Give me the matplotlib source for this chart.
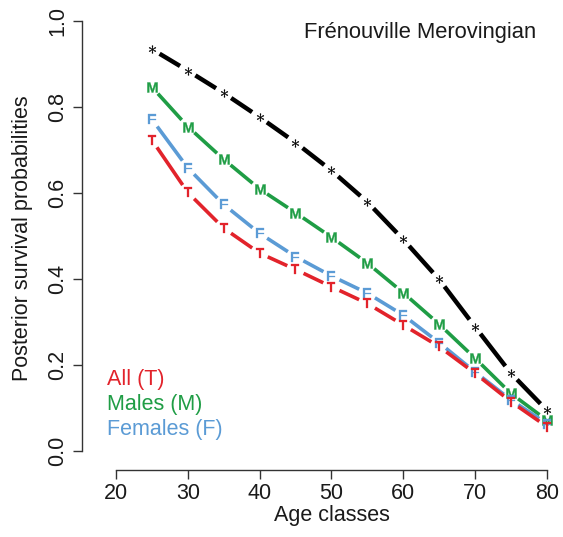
import numpy as np
import matplotlib
matplotlib.use("Agg")
import matplotlib.pyplot as plt

plt.rcParams["font.family"] = ["Liberation Sans", "DejaVu Sans"]
plt.rcParams["mathtext.fontset"] = "custom"
plt.rcParams["mathtext.rm"] = "Liberation Sans"
plt.rcParams["mathtext.bf"] = "Liberation Sans:bold"

# Age classes and posterior survival probabilities
ages = [25, 30, 35, 40, 45, 50, 55, 60, 65, 70, 75, 80]
overall_ref = [0.934, 0.884, 0.832, 0.776, 0.717, 0.652, 0.579, 0.492, 0.399, 0.289, 0.181, 0.095]
males = [0.846, 0.754, 0.678, 0.609, 0.554, 0.497, 0.437, 0.368, 0.295, 0.216, 0.134, 0.072]
females = [0.771, 0.658, 0.573, 0.506, 0.452, 0.407, 0.367, 0.316, 0.252, 0.184, 0.119, 0.064]
all_T = [0.723, 0.601, 0.518, 0.460, 0.422, 0.382, 0.343, 0.293, 0.243, 0.181, 0.115, 0.057]

x_ticks = [20, 30, 40, 50, 60, 70, 80]
y_ticks = [0.0, 0.2, 0.4, 0.6, 0.8, 1.0]

RED = "#e2232b"
GREEN = "#1f9d45"
BLUE = "#5b9bd5"
BLACK = "#000000"
TXT = "#1a1a1a"

W, H = 563, 537
fig = plt.figure(figsize=(W / 100, H / 100), dpi=100)
left_px, right_px, top_px, bottom_px = 101.6, 561.1, 3.5, 470.0
ax = fig.add_axes([left_px / W, 1 - bottom_px / H,
                   (right_px - left_px) / W, (bottom_px - top_px) / H])
ax.set_xlim(18, 82)
ax.set_ylim(-0.044, 1.04)
ax.patch.set_alpha(0)

for s in ("top", "right"):
    ax.spines[s].set_visible(False)
ax.spines["left"].set_position(("outward", 14.1))
ax.spines["left"].set_bounds(0, 1)
ax.spines["bottom"].set_bounds(20, 80)
for s in ("left", "bottom"):
    ax.spines[s].set_color("#333333")
    ax.spines[s].set_linewidth(1.0)

ax.set_xticks(x_ticks)
ax.set_xticklabels([str(v) for v in x_ticks])
ax.set_yticks(y_ticks)
ax.set_yticklabels([f"{v:.1f}" for v in y_ticks], rotation=90, va="center")
ax.tick_params(axis="both", length=6.5, width=1.0, color="#333333",
               labelsize=15.5, labelcolor=TXT)
ax.tick_params(axis="x", pad=2.9)
ax.tick_params(axis="y", pad=3.5)


def gapped_line(xs, ys, gap_px, color, lw):
    """Connect consecutive points, leaving a blank gap around each point."""
    pts = ax.transData.transform(np.column_stack([xs, ys]))
    inv = ax.transData.inverted()
    for p0, p1 in zip(pts[:-1], pts[1:]):
        d = p1 - p0
        u = d / np.hypot(*d)
        a = inv.transform(p0 + u * gap_px)
        b = inv.transform(p1 - u * gap_px)
        ax.plot([a[0], b[0]], [a[1], b[1]], color=color, lw=lw,
                solid_capstyle="butt", zorder=2)


series = [
    (overall_ref, BLACK, r"$\ast$", 5.8, 3.2),
    (males, GREEN, r"$\mathbf{M}$", 7.4, 2.6),
    (females, BLUE, r"$\mathbf{F}$", 7.4, 2.6),
    (all_T, RED, r"$\mathbf{T}$", 7.4, 2.6),
]
for vals, col, mk, ms, lw in series:
    gapped_line(ages, vals, 9.0, col, lw)
    ax.plot(ages, vals, linestyle="none", marker=mk, markersize=ms,
            color=col, markeredgewidth=0.2, zorder=3)

ax.text(62.3, 0.960, "Frénouville Merovingian", ha="center", va="baseline",
        fontsize=15.8, color=TXT)

legend_items = [("All (T)", RED, 0.153), ("Males (M)", GREEN, 0.095),
                ("Females (F)", BLUE, 0.037)]
for label, col, yb in legend_items:
    ax.text(18.75, yb, label, ha="left", va="baseline", fontsize=15.5, color=col)

ax.set_xlabel("Age classes", fontsize=15.5, color=TXT, va="baseline")
ax.xaxis.set_label_coords(0.501, -0.11)
fig.text(23 / W, 1 - 238 / H, "Posterior survival probabilities", rotation=90,
         ha="center", va="center", fontsize=15.5, color=TXT)

fig.savefig("out.png", dpi=100)
